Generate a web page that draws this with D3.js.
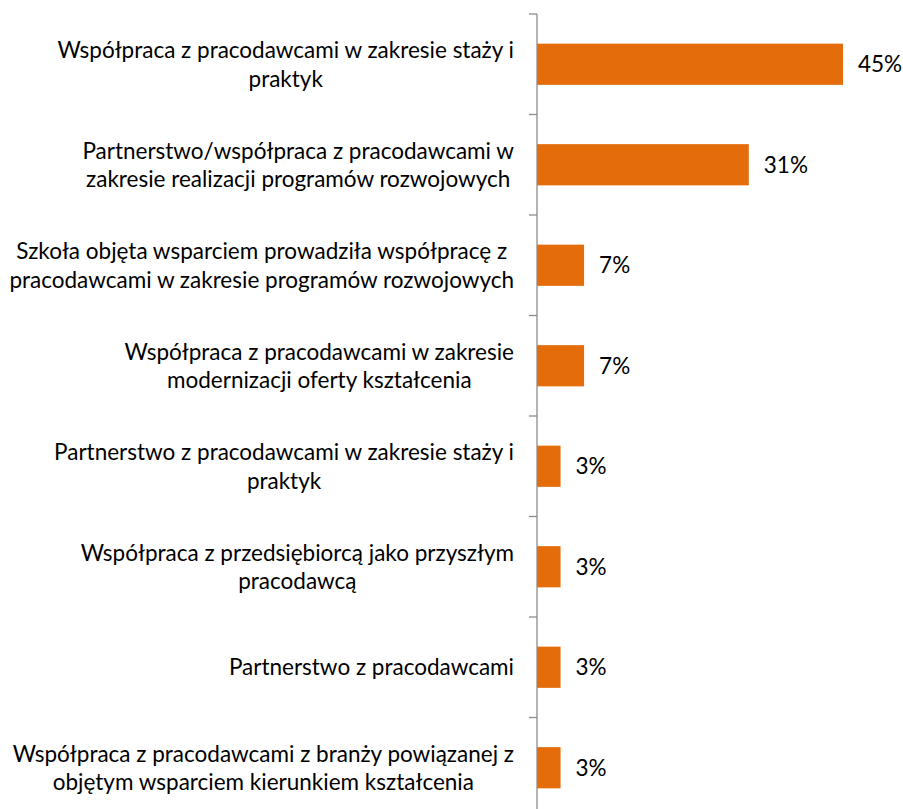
<!DOCTYPE html>
<html>
<head>
<meta charset="utf-8">
<script src="https://cdn.jsdelivr.net/npm/d3@7"></script>
<style>
  body { margin: 0; background: #fff; }
  text { font-family: Lato, "Open Sans", sans-serif; fill: #000; }
</style>
</head>
<body>
<svg id="chart" width="903" height="809"></svg>
<script>
// categories (line breaks as in the original chart)
const categories = [
  ["Współpraca z pracodawcami w zakresie staży i", "praktyk"],
  ["Partnerstwo/współpraca z pracodawcami w", "zakresie realizacji programów rozwojowych"],
  ["Szkoła objęta wsparciem prowadziła współpracę z", "pracodawcami w zakresie programów rozwojowych"],
  ["Współpraca z pracodawcami w zakresie", "modernizacji oferty kształcenia"],
  ["Partnerstwo z pracodawcami w zakresie staży i", "praktyk"],
  ["Współpraca z przedsiębiorcą jako przyszłym", "pracodawcą"],
  ["Partnerstwo z pracodawcami"],
  ["Współpraca z pracodawcami z branży powiązanej z", "objętym wsparciem kierunkiem kształcenia"]
];
// shares in percent
const values = [44.83, 31.03, 6.90, 6.90, 3.45, 3.45, 3.45, 3.45];
const valueLabels = ["45%", "31%", "7%", "7%", "3%", "3%", "3%", "3%"];

const svg = d3.select("#chart");
const axisX = 537, yTop = 14, yBottom = 818;
const fontSize = 22.5, lineH = 28.5;

const ids = categories.map((c, i) => i);
const y = d3.scaleBand().domain(ids).range([yTop, yBottom]).padding(0);
const x = d3.scaleLinear().domain([0, 44.83]).range([axisX, 843]);

// bars
const barH = y.bandwidth() * 0.41;
svg.append("g").selectAll("rect")
  .data(values)
  .enter().append("rect")
  .attr("x", x(0))
  .attr("y", (d, i) => y(i) + (y.bandwidth() - barH) / 2)
  .attr("width", d => x(d) - x(0))
  .attr("height", barH)
  .attr("fill", "#E46C0A");

// axis line + boundary ticks
const ax = svg.append("g").attr("stroke", "#8c8c8c").attr("stroke-width", 1.3);
ax.append("line").attr("x1", axisX).attr("x2", axisX).attr("y1", yTop).attr("y2", 809);
ax.selectAll("line.tick")
  .data(ids)
  .enter().append("line")
  .attr("class", "tick")
  .attr("x1", axisX - 8).attr("x2", axisX)
  .attr("y1", d => y(d)).attr("y2", d => y(d));

// value labels
svg.append("g").selectAll("text")
  .data(values)
  .enter().append("text")
  .attr("x", d => x(d) + 15)
  .attr("y", (d, i) => y(i) + y.bandwidth() / 2)
  .attr("dy", "0.36em")
  .style("font-size", fontSize + "px")
  .text((d, i) => valueLabels[i]);

// category labels: block right-aligned, lines centred within the block
const blockRight = axisX - 23;
const lab = svg.append("g");
categories.forEach((lines, i) => {
  const g = lab.append("g");
  const cy = y(i) + y.bandwidth() / 2;
  const t = g.selectAll("text")
    .data(lines)
    .enter().append("text")
    .style("font-size", fontSize + "px")
    .attr("text-anchor", "middle")
    .attr("y", (d, j) => cy + (j - (lines.length - 1) / 2) * lineH)
    .attr("dy", "0.36em")
    .text(d => d);
  let w = 0;
  t.each(function () { w = Math.max(w, this.getComputedTextLength()); });
  t.attr("x", blockRight - w / 2);
});
</script>
</body>
</html>
